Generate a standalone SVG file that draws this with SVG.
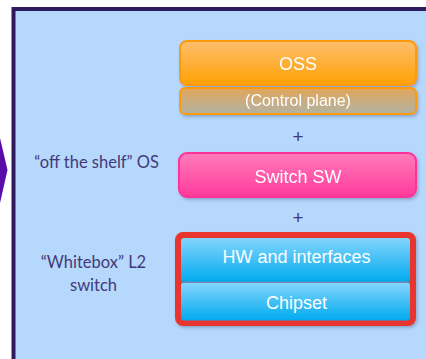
<svg xmlns="http://www.w3.org/2000/svg" width="426" height="359" viewBox="0 0 426 359">
  <defs>
    <linearGradient id="gOss" x1="0" y1="0" x2="0" y2="1">
      <stop offset="0" stop-color="#fdbe6c"/>
      <stop offset="1" stop-color="#ffa104"/>
    </linearGradient>
    <linearGradient id="gCtl" x1="0" y1="0" x2="0" y2="1">
      <stop offset="0" stop-color="#e2a658"/>
      <stop offset="1" stop-color="#b2b3a4"/>
    </linearGradient>
    <linearGradient id="gSw" x1="0" y1="0" x2="0" y2="1">
      <stop offset="0" stop-color="#ff7cbc"/>
      <stop offset="1" stop-color="#ff3a9a"/>
    </linearGradient>
    <linearGradient id="gHw" x1="0" y1="0" x2="0" y2="1">
      <stop offset="0" stop-color="#84d5fd"/>
      <stop offset="1" stop-color="#00aaee"/>
    </linearGradient>
    <filter id="shadow" x="-10%" y="-20%" width="125%" height="150%">
      <feDropShadow dx="1.5" dy="2" stdDeviation="1.5" flood-color="#40507a" flood-opacity="0.35"/>
    </filter>
  </defs>
  <style>
    .lbl { font-family: Lato, "Open Sans", sans-serif; font-size: 16.5px; fill: #44397a; text-anchor: middle; }
    .plus { font-family: "Liberation Sans", Arial, sans-serif; font-size: 19px; fill: #44397a; text-anchor: middle; }
    .box { font-family: "Liberation Sans", Arial, sans-serif; font-size: 18px; fill: #ffffff; text-anchor: middle; }
  </style>

  <!-- page background -->
  <rect x="0" y="0" width="426" height="359" fill="#ffffff"/>

  <!-- arrow tip peeking in from the left -->
  <polygon points="0,138 7.5,170 0,203" fill="#5a0ca8"/>

  <!-- framed panel -->
  <rect x="13.5" y="9" width="420" height="360" fill="#b5d8fc" stroke="#2e1a5c" stroke-width="4"/>

  <!-- side labels -->
  <g id="label-os">
    <text class="lbl" x="96.5" y="168">“off the shelf” OS</text>
  </g>
  <g id="label-whitebox">
    <text class="lbl" x="93.5" y="268">“Whitebox” L2</text>
    <text class="lbl" x="93.5" y="291">switch</text>
  </g>

  <!-- OSS -->
  <g id="oss" filter="url(#shadow)">
    <rect x="180" y="41" width="236" height="44" rx="7" fill="url(#gOss)" stroke="#ff9a0a" stroke-width="2"/>
    <text class="box" x="298" y="70">OSS</text>
  </g>
  <g id="control-plane" filter="url(#shadow)">
    <rect x="180" y="88" width="236" height="26" rx="5" fill="url(#gCtl)" stroke="#ff9a0a" stroke-width="2"/>
    <text class="box" x="298" y="106" style="font-size:16px">(Control plane)</text>
  </g>

  <text class="plus" x="298" y="143">+</text>

  <!-- Switch SW -->
  <g id="switch-sw" filter="url(#shadow)">
    <rect x="179" y="153" width="237" height="44" rx="8" fill="url(#gSw)" stroke="#ff3399" stroke-width="2"/>
    <text class="box" x="298" y="183">Switch SW</text>
  </g>

  <text class="plus" x="298" y="224">+</text>

  <!-- Whitebox hardware -->
  <g id="whitebox" filter="url(#shadow)">
    <rect x="177" y="234" width="237" height="90" rx="6" fill="#e8352e"/>
    <rect x="181" y="238" width="229" height="44" rx="3" fill="url(#gHw)"/>
    <rect x="181" y="282.5" width="229" height="38" rx="3" fill="url(#gHw)"/>
    <line x1="181" y1="282" x2="410" y2="282" stroke="#4d8fbf" stroke-width="1"/>
    <rect x="177" y="234" width="237" height="90" rx="6" fill="none" stroke="#e8352e" stroke-width="4"/>
  </g>
  <g id="hw">
    <text class="box" x="296.5" y="263">HW and interfaces</text>
  </g>
  <g id="chipset">
    <text class="box" x="296.5" y="309">Chipset</text>
  </g>
</svg>
